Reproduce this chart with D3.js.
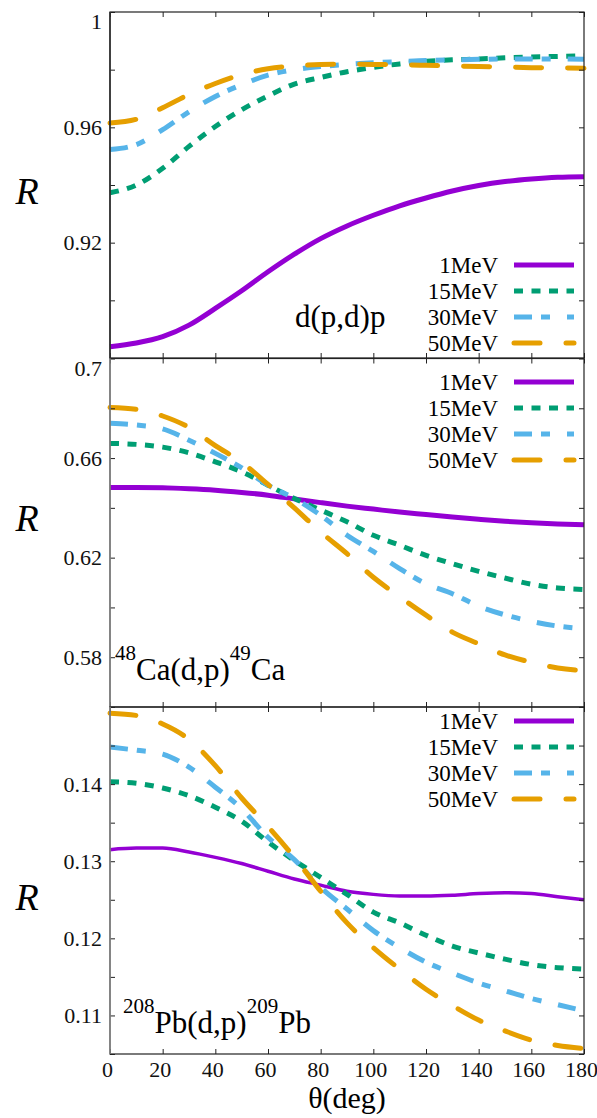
<!DOCTYPE html>
<html>
<head>
<meta charset="utf-8">
<script src="https://cdn.jsdelivr.net/npm/d3@7"></script>
</head>
<body style="margin:0">
<script>
// scattering angle, deg
const ANGLES = [0, 10, 20, 30, 40, 50, 60, 70, 80, 90, 100, 110, 120, 130, 140, 150, 160, 170, 180];
const ENERGIES = ['1MeV', '15MeV', '30MeV', '50MeV'];

// d(p,d)p
const DPD_1  = [0.8839, 0.8852, 0.8874, 0.8914, 0.8972, 0.9033, 0.9099, 0.9160, 0.9214, 0.9258, 0.9295, 0.9328, 0.9355, 0.9379, 0.9398, 0.9412, 0.9421, 0.9427, 0.9429];
const DPD_15 = [0.9373, 0.9400, 0.9458, 0.9534, 0.9603, 0.9661, 0.9709, 0.9750, 0.9773, 0.9793, 0.9808, 0.9820, 0.9829, 0.9834, 0.9837, 0.9841, 0.9844, 0.9846, 0.9848];
const DPD_30 = [0.9523, 0.9540, 0.9592, 0.9654, 0.9707, 0.9748, 0.9781, 0.9800, 0.9811, 0.9818, 0.9824, 0.9828, 0.9832, 0.9834, 0.9836, 0.9837, 0.9837, 0.9837, 0.9836];
const DPD_50 = [0.9615, 0.9628, 0.9668, 0.9714, 0.9752, 0.9783, 0.9803, 0.9813, 0.9818, 0.9819, 0.9818, 0.9817, 0.9815, 0.9813, 0.9811, 0.9809, 0.9807, 0.9806, 0.9805];

// 48Ca(d,p)49Ca
const CA_1  = [0.6482, 0.6482, 0.6481, 0.6477, 0.6471, 0.6462, 0.6451, 0.6436, 0.6421, 0.6407, 0.6395, 0.6383, 0.6373, 0.6363, 0.6354, 0.6346, 0.6340, 0.6335, 0.6332];
const CA_15 = [0.6659, 0.6655, 0.6644, 0.6621, 0.6585, 0.6545, 0.6491, 0.6438, 0.6391, 0.6344, 0.6290, 0.6250, 0.6209, 0.6176, 0.6145, 0.6118, 0.6093, 0.6078, 0.6072];
const CA_30 = [0.6740, 0.6733, 0.6717, 0.6672, 0.6619, 0.6561, 0.6491, 0.6438, 0.6370, 0.6290, 0.6225, 0.6156, 0.6095, 0.6055, 0.6005, 0.5970, 0.5944, 0.5925, 0.5914];
const CA_50 = [0.6803, 0.6796, 0.6769, 0.6723, 0.6650, 0.6583, 0.6494, 0.6400, 0.6303, 0.6216, 0.6121, 0.6043, 0.5969, 0.5901, 0.5854, 0.5809, 0.5780, 0.5757, 0.5746];

// 208Pb(d,p)209Pb
const PB_1  = [0.1315, 0.1317, 0.1317, 0.1312, 0.1305, 0.1297, 0.1287, 0.1277, 0.1269, 0.1261, 0.1257, 0.1255, 0.1255, 0.1256, 0.1258, 0.1259, 0.1258, 0.1254, 0.1250];
const PB_15 = [0.1403, 0.1401, 0.1395, 0.1385, 0.1370, 0.1352, 0.1325, 0.1301, 0.1279, 0.1257, 0.1234, 0.1220, 0.1204, 0.1190, 0.1181, 0.1173, 0.1166, 0.1162, 0.1160];
const PB_30 = [0.1448, 0.1444, 0.1439, 0.1422, 0.1396, 0.1368, 0.1331, 0.1302, 0.1266, 0.1238, 0.1210, 0.1188, 0.1169, 0.1155, 0.1142, 0.1132, 0.1122, 0.1114, 0.1106];
const PB_50 = [0.1492, 0.1489, 0.1478, 0.1458, 0.1424, 0.1382, 0.1345, 0.1305, 0.1261, 0.1220, 0.1188, 0.1160, 0.1134, 0.1113, 0.1094, 0.1080, 0.1068, 0.1061, 0.1057];

const X_TICKS = [0, 20, 40, 60, 80, 100, 120, 140, 160, 180];

const DPD_DOMAIN = [0.88, 1.0];
const DPD_TICKS  = [0.88, 0.90, 0.92, 0.94, 0.96, 0.98, 1.0];
const DPD_LABELS = [1.0, 0.96, 0.92];

const CA_DOMAIN = [0.56, 0.70];
const CA_TICKS  = [0.56, 0.58, 0.60, 0.62, 0.64, 0.66, 0.68, 0.70];
const CA_LABELS = [0.70, 0.66, 0.62, 0.58];

const PB_DOMAIN = [0.105, 0.15];
const PB_TICKS  = [0.105, 0.11, 0.115, 0.12, 0.125, 0.13, 0.135, 0.14, 0.145, 0.15];
const PB_LABELS = [0.14, 0.13, 0.12, 0.11];

const COLORS = ['#9400d3', '#009e73', '#56b4e9', '#e69f00'];
const DASHES = [null, '9,8.5', '18,9,9,17', '26,26'];
const CAPS   = ['butt', 'butt', 'butt', 'round'];

const FONT   = 'Times New Roman';
const WIDTH  = 597;
const HEIGHT = 1118;
const LEFT   = 110;
const RIGHT  = 584;
const TICK   = 5;

const PANELS = [
  { top: 12,    bottom: 358,  domain: DPD_DOMAIN, ticks: DPD_TICKS, labels: DPD_LABELS,
    series: [DPD_1, DPD_15, DPD_30, DPD_50], legendY: 265, rLabel: 204, leftColor: '#333', thin: 5 },
  { top: 358.5, bottom: 707,  domain: CA_DOMAIN,  ticks: CA_TICKS,  labels: CA_LABELS,
    series: [CA_1, CA_15, CA_30, CA_50], legendY: 382, rLabel: 531, leftColor: '#888', thin: 5 },
  { top: 707,   bottom: 1054, domain: PB_DOMAIN,  ticks: PB_TICKS,  labels: PB_LABELS,
    series: [PB_1, PB_15, PB_30, PB_50], legendY: 721, rLabel: 910, leftColor: '#888', thin: 3.5 }
];

const svg = d3.select('body').append('svg')
  .attr('width', WIDTH)
  .attr('height', HEIGHT);

const x = d3.scaleLinear().domain([0, 180]).range([LEFT, RIGHT]);
const fmt = d3.format('~g');
const near = (arr, d) => arr.some(v => Math.abs(v - d) < 1e-9);

function label(sel, size) {
  return sel
    .style('font-family', `"${FONT}"`)
    .style('font-size', `${size}px`);
}

// d3 axes stamp font-family="sans-serif" on their group; strip it
function bare(sel) {
  sel.attr('font-family', null).attr('font-size', null).attr('fill', null);
  sel.select('.domain').remove();
  sel.selectAll('.tick line').style('stroke', '#222').style('stroke-width', 1);
  return sel;
}

PANELS.forEach((p, pi) => {
  const y = d3.scaleLinear().domain(p.domain).range([p.bottom, p.top]);
  const g = svg.append('g');

  // curves
  const line = d3.line()
    .x((d, i) => x(ANGLES[i]))
    .y(d => y(d))
    .curve(d3.curveMonotoneX);

  p.series.forEach((vals, si) => {
    g.append('path')
      .datum(vals)
      .attr('d', line)
      .style('fill', 'none')
      .style('stroke', COLORS[si])
      .style('stroke-width', si === 0 ? p.thin : 5)
      .style('stroke-dasharray', DASHES[si])
      .style('stroke-linecap', CAPS[si]);
  });

  // axes
  const left = bare(g.append('g')
    .attr('transform', `translate(${LEFT},0)`)
    .call(d3.axisLeft(y).tickValues(p.ticks).tickSize(-TICK).tickSizeOuter(0).tickPadding(8)
      .tickFormat(d => near(p.labels, d) ? fmt(d) : '')));
  label(left.selectAll('text'), 22)
    .style('fill', '#111')
    .attr('dy', d => Math.abs(d - p.domain[1]) < 1e-9 ? '0.75em' : '0.32em');

  bare(g.append('g')
    .attr('transform', `translate(${RIGHT},0)`)
    .call(d3.axisRight(y).tickValues(p.ticks).tickSize(-TICK).tickSizeOuter(0).tickFormat('')));

  bare(g.append('g')
    .attr('transform', `translate(0,${p.top})`)
    .call(d3.axisTop(x).tickValues(X_TICKS).tickSize(-TICK).tickSizeOuter(0).tickFormat('')));

  const bottom = bare(g.append('g')
    .attr('transform', `translate(0,${p.bottom})`)
    .call(d3.axisBottom(x).tickValues(X_TICKS).tickSize(-TICK).tickSizeOuter(0).tickPadding(7)
      .tickFormat(pi === PANELS.length - 1 ? d => d : '')));
  label(bottom.selectAll('text'), 22).style('fill', '#111').attr('dx', -3);

  // frame
  g.append('rect')
    .attr('x', LEFT).attr('y', p.top)
    .attr('width', RIGHT - LEFT).attr('height', p.bottom - p.top)
    .style('fill', 'none')
    .style('stroke', '#222')
    .style('stroke-width', 1.2);
  g.append('line')
    .attr('x1', LEFT).attr('x2', LEFT)
    .attr('y1', p.top).attr('y2', p.bottom)
    .style('stroke', p.leftColor)
    .style('stroke-width', 1.6);

  // y label
  label(g.append('text'), 38)
    .text('R')
    .attr('x', 27)
    .attr('y', p.rLabel)
    .attr('text-anchor', 'middle')
    .style('font-style', 'italic');

  // legend
  ENERGIES.forEach((name, si) => {
    const ly = p.legendY + si * 26;
    label(g.append('text'), 23)
      .text(name)
      .attr('x', 498)
      .attr('y', ly)
      .attr('dy', '0.34em')
      .attr('text-anchor', 'end');
    g.append('line')
      .attr('x1', 514).attr('x2', 574)
      .attr('y1', ly).attr('y2', ly)
      .style('stroke', COLORS[si])
      .style('stroke-width', 5)
      .style('stroke-dasharray', DASHES[si])
      .style('stroke-linecap', CAPS[si]);
  });
});

// reaction labels
label(svg.append('text'), 31)
  .text('d(p,d)p')
  .attr('x', 295)
  .attr('y', 327);

function reaction(xPos, yPos, parts) {
  const t = label(svg.append('text'), 31).attr('x', xPos).attr('y', yPos);
  let raised = false;
  parts.forEach(([s, sup]) => {
    const dy = sup && !raised ? -20 : (!sup && raised ? 20 : 0);
    raised = sup;
    t.append('tspan')
      .text(s)
      .attr('dy', dy)
      .style('font-size', sup ? '21px' : '31px');
  });
}
reaction(115, 680, [['48', true], ['Ca(d,p)', false], ['49', true], ['Ca', false]]);
reaction(123, 1033, [['208', true], ['Pb(d,p)', false], ['209', true], ['Pb', false]]);

// x label
label(svg.append('text'), 30)
  .text('θ(deg)')
  .attr('x', 347)
  .attr('y', 1108)
  .attr('text-anchor', 'middle');
</script>
</body>
</html>
